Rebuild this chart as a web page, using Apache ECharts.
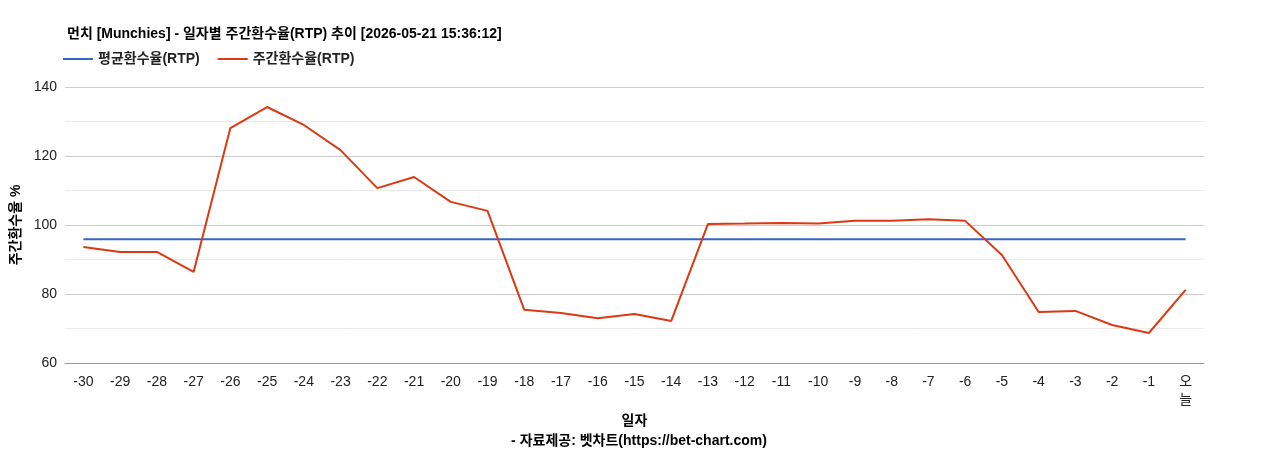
<!DOCTYPE html>
<html>
<head>
<meta charset="utf-8">
<script src="https://cdn.jsdelivr.net/npm/echarts@6/dist/echarts.min.js"></script>
<style>html,body{margin:0;padding:0;background:#fff}#chart{width:1268px;height:450px}</style>
</head>
<body>
<div id="chart"></div>
<script>
var days = ['-30','-29','-28','-27','-26','-25','-24','-23','-22','-21','-20','-19','-18','-17','-16','-15','-14','-13','-12','-11','-10','-9','-8','-7','-6','-5','-4','-3','-2','-1','오\n늘'];
var weeklyRtp = [93.6,92.2,92.2,86.4,128.1,134.2,129,121.7,110.7,113.9,106.7,104.1,75.4,74.5,73,74.2,72.2,100.3,100.4,100.6,100.4,101.2,101.2,101.7,101.2,91.3,74.8,75.1,71,68.7,81.2];
var avgRtp = 95.9;
var avgLine = days.map(function(){ return avgRtp; });

var chart = echarts.init(document.getElementById('chart'));
var font = 'Arial, "Liberation Sans", "Noto Sans CJK KR", sans-serif';
chart.setOption({
  animation: false,
  textStyle: { fontFamily: font },
  title: [
    { text: '먼치 [Munchies] - 일자별 주간환수율(RTP) 추이 [2026-05-21 15:36:12]', left: 62, top: 22,
      textStyle: { fontSize: 14, fontWeight: 'bold', color: '#000', fontFamily: font } },
    { text: '- 자료제공: 벳차트(https://bet-chart.com)', left: 634, top: 429, textAlign: 'center',
      textStyle: { fontSize: 14, fontWeight: 'bold', color: '#000', fontFamily: font } }
  ],
  color: ['#3366cc', '#dc3912'],
  legend: {
    left: 58, top: 47, itemWidth: 30, itemHeight: 2, itemGap: 18, icon: 'rect',
    textStyle: { fontSize: 14, fontWeight: 'bold', color: '#222', fontFamily: font },
    data: ['평균환수율(RTP)', '주간환수율(RTP)']
  },
  grid: { left: 65, right: 64, top: 87, bottom: 87 },
  xAxis: {
    type: 'category', data: days, boundaryGap: true,
    name: '일자', nameLocation: 'middle', nameGap: 45,
    nameTextStyle: { fontSize: 14, fontWeight: 'bold', color: '#000' },
    axisLine: { lineStyle: { color: '#999' } },
    axisTick: { show: false },
    axisLabel: { color: '#222', fontSize: 14, interval: 0, margin: 10, lineHeight: 18 }
  },
  yAxis: {
    type: 'value', min: 60, max: 140, interval: 20,
    name: '주간환수율 %', nameLocation: 'middle', nameGap: 18,
    nameTextStyle: { fontSize: 14, fontWeight: 'bold', color: '#000' },
    axisLabel: { color: '#222', fontSize: 14 },
    axisLine: { show: false }, axisTick: { show: false },
    splitLine: { lineStyle: { color: '#ccc' } },
    minorTick: { show: false, splitNumber: 2 },
    minorSplitLine: { show: true, lineStyle: { color: '#ebebeb' } }
  },
  series: [
    { name: '평균환수율(RTP)', type: 'line', data: avgLine, symbol: 'none', lineStyle: { width: 2 } },
    { name: '주간환수율(RTP)', type: 'line', data: weeklyRtp, symbol: 'none', lineStyle: { width: 2 } }
  ]
});
</script>
</body>
</html>
